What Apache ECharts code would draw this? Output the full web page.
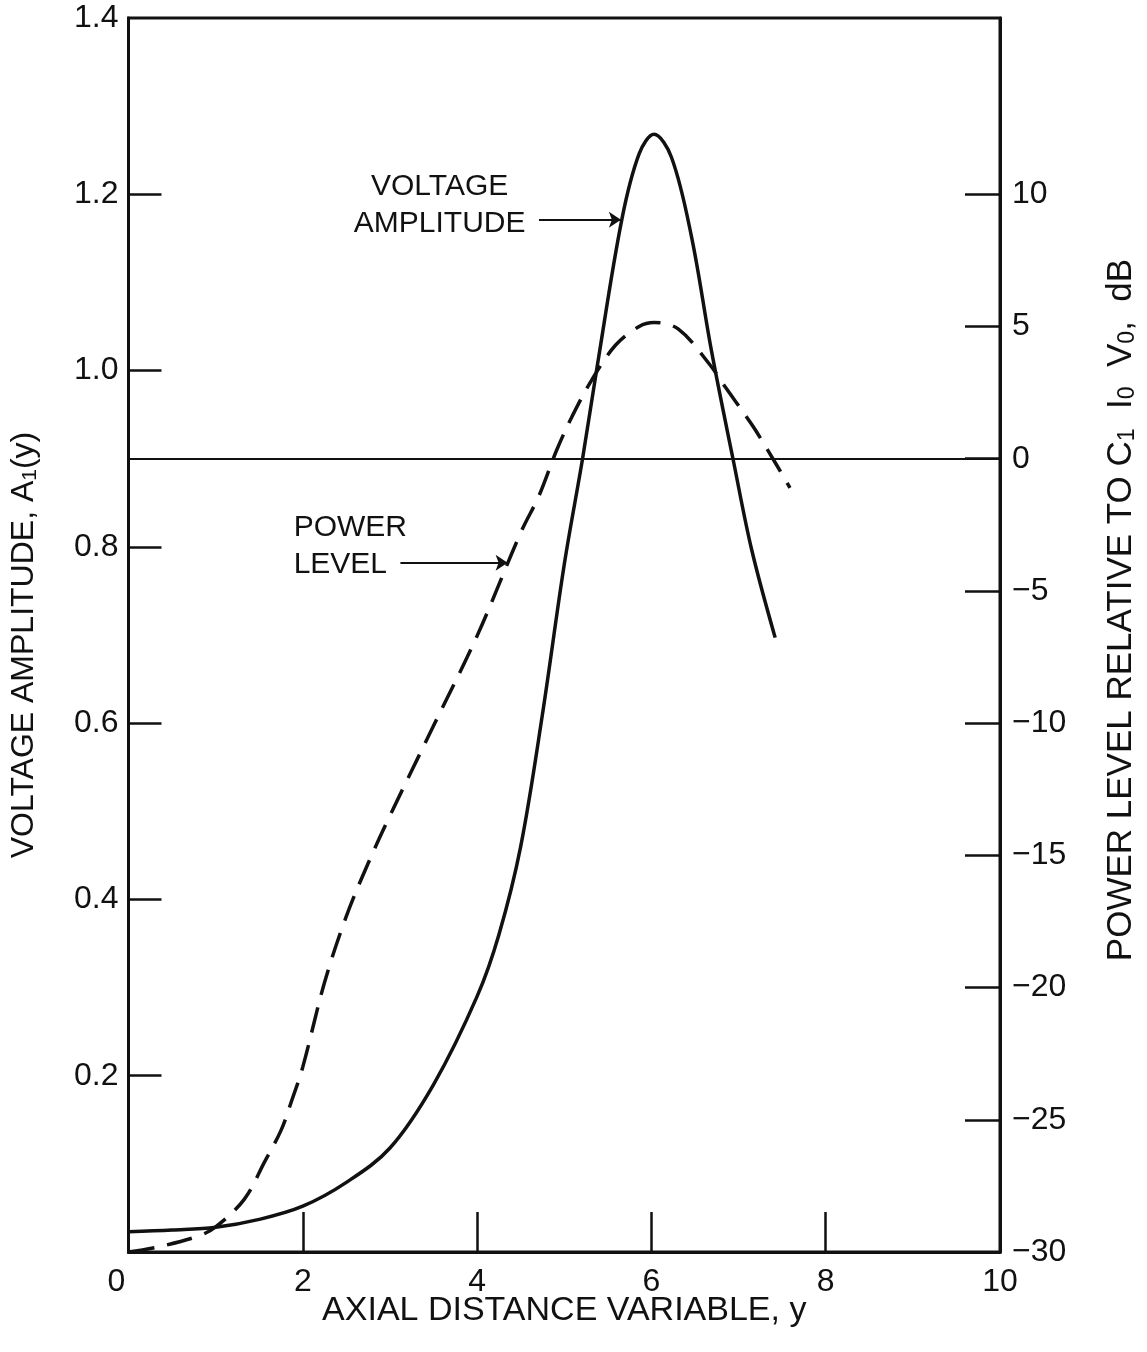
<!DOCTYPE html>
<html>
<head>
<meta charset="utf-8">
<script src="https://cdn.jsdelivr.net/npm/echarts@6/dist/echarts.min.js"></script>
<style>
  html, body { margin: 0; padding: 0; background: #fff; }
  #chart { width: 1147px; height: 1352px; }
</style>
</head>
<body>
<div id="chart"></div>
<script>
// Axial distance variable y
const yPosVoltage = [0, 0.5, 1.0, 1.5, 2.0, 2.5, 3.0, 3.5, 4.0, 4.25, 4.5, 4.75, 5.0, 5.21, 5.38, 5.66, 5.86, 6.03, 6.23, 6.46, 6.69, 6.94, 7.15, 7.42];
// Voltage amplitude A1(y)
const voltageAmp = [0.023, 0.025, 0.028, 0.037, 0.052, 0.079, 0.118, 0.19, 0.29, 0.36, 0.46, 0.61, 0.78, 0.90, 1.006, 1.171, 1.246, 1.268, 1.242, 1.152, 1.022, 0.898, 0.797, 0.697];

const yPosPower = [0, 0.35, 0.8, 1.0, 1.33, 1.56, 1.75, 1.87, 2.0, 2.25, 2.5, 2.75, 3.0, 3.5, 4.0, 4.5, 4.71, 4.91, 5.09, 5.32, 5.59, 5.86, 6.03, 6.31, 6.66, 6.85, 7.15, 7.34, 7.59];
// Power level relative to C1 I0 V0, dB
const powerDb = [-30, -29.8, -29.4, -29.05, -28.0, -26.6, -25.4, -24.3, -23.0, -19.8, -17.3, -15.3, -13.5, -10.1, -6.7, -2.8, -1.4, 0.3, 1.6, 3.0, 4.3, 5.0, 5.15, 4.9, 3.6, 2.7, 1.3, 0.3, -1.1];

// Tick positions and labels
const xTicks = [2, 4, 6, 8];
const xLabels = [0, 2, 4, 6, 8, 10];
const ampTicks = [0.2, 0.4, 0.6, 0.8, 1.0, 1.2];
const ampLabels = [0.2, 0.4, 0.6, 0.8, 1.0, 1.2, 1.4];
const dbTicks = [-25, -20, -15, -10, -5, 0, 5, 10];
const dbLabels = [-30, -25, -20, -15, -10, -5, 0, 5, 10];

// Callout texts and arrows (in y / A1 units)
const voltageNoteAt = [3.57, 1.188];
const voltageArrow = [[4.71, 1.171], [5.65, 1.171]];
const powerNoteAt = [1.895, 0.801];
const powerArrow = [[3.12, 0.782], [4.35, 0.782]];

// 0 dB corresponds to A = 0.9, and 1 dB spans 0.03 of the amplitude scale
const AMP_MAX = 1.4;
const DB_MIN = -30;
const DB_MAX = DB_MIN + AMP_MAX / 0.03;

const FONT = '"Liberation Sans", Arial, sans-serif';
const INK = '#111';

const zip = (xs, ys) => xs.map((x, i) => [x, ys[i]]);
const fmtAmp = v => (Math.round(v * 10) / 10).toFixed(1);
const fmtDb = v => (v < 0 ? '\u2212' + Math.abs(v) : String(v));
const fmtX = v => (v === 0 ? '{zero|0}' : String(v));

const chart = echarts.init(document.getElementById('chart'), null, { renderer: 'canvas' });

chart.setOption({
  animation: false,
  backgroundColor: '#fff',
  grid: {
    left: 127, right: 144, top: 18, bottom: 100,
    show: true, borderColor: INK, borderWidth: 3, backgroundColor: 'transparent'
  },
  xAxis: {
    type: 'value', min: 0, max: 10, interval: 2,
    name: 'AXIAL DISTANCE VARIABLE, y',
    nameLocation: 'middle', nameGap: 42, nameMoveOverlap: false,
    nameTextStyle: { fontFamily: FONT, fontSize: 34, color: INK, verticalAlign: 'top' },
    axisLine: { show: true, onZero: false, lineStyle: { color: INK, width: 3 } },
    axisTick: { show: true, inside: true, length: 40, customValues: xTicks, lineStyle: { color: INK, width: 2.5 } },
    axisLabel: {
      customValues: xLabels, margin: 14, fontFamily: FONT, fontSize: 32, color: INK, formatter: fmtX,
      rich: { zero: { fontFamily: FONT, fontSize: 32, color: INK, padding: [0, 24, 0, 0] } }
    },
    splitLine: { show: false }
  },
  yAxis: [
    {
      type: 'value', min: 0, max: AMP_MAX, interval: 0.2, position: 'left',
      name: 'VOLTAGE AMPLITUDE, A{sub|1}(y)',
      nameLocation: 'middle', nameGap: 88, nameRotate: 90,
      nameTextStyle: {
        fontFamily: FONT, fontSize: 32, color: INK, padding: [0, 20, 0, 0],
        rich: { sub: { fontFamily: FONT, fontSize: 21, color: INK, padding: [12, 0, 0, 0] } }
      },
      axisLine: { show: true, lineStyle: { color: INK, width: 3 } },
      axisTick: { show: true, inside: true, length: 33, customValues: ampTicks, lineStyle: { color: INK, width: 2.5 } },
      axisLabel: { customValues: ampLabels, margin: 10, fontFamily: FONT, fontSize: 32, color: INK, formatter: fmtAmp },
      splitLine: { show: false }
    },
    {
      type: 'value', min: DB_MIN, max: DB_MAX, position: 'right',
      name: 'POWER LEVEL RELATIVE TO C{sub|1}  I{sub|0}  V{sub|0},  dB',
      nameLocation: 'middle', nameGap: 104, nameRotate: 90,
      nameTextStyle: {
        fontFamily: FONT, fontSize: 35, color: INK, padding: [0, 0, 0, 50],
        rich: { sub: { fontFamily: FONT, fontSize: 23, color: INK, padding: [12, 0, 0, 0] } }
      },
      axisLine: { show: true, lineStyle: { color: INK, width: 3 } },
      axisTick: { show: true, inside: true, length: 35, customValues: dbTicks, lineStyle: { color: INK, width: 2.5 } },
      axisLabel: { customValues: dbLabels, margin: 12, fontFamily: FONT, fontSize: 32, color: INK, formatter: fmtDb },
      splitLine: { show: false }
    }
  ],
  series: [
    {
      name: 'Voltage amplitude',
      type: 'line', yAxisIndex: 0,
      data: zip(yPosVoltage, voltageAmp),
      smooth: 0.35,
      showSymbol: false, silent: true,
      lineStyle: { color: INK, width: 3.5 },
      markLine: {
        silent: true, animation: false,
        symbol: ['none', 'arrow'], symbolSize: 12,
        lineStyle: { color: INK, width: 2, type: 'solid' },
        label: { show: false },
        data: [
          [{ coord: voltageArrow[0] }, { coord: voltageArrow[1] }],
          [{ coord: powerArrow[0] }, { coord: powerArrow[1] }]
        ]
      },
      markPoint: {
        silent: true, animation: false,
        symbol: 'circle', symbolSize: 0,
        itemStyle: { color: 'transparent' },
        data: [
          {
            coord: voltageNoteAt,
            label: {
              show: true, formatter: 'VOLTAGE\nAMPLITUDE', position: [0, 0],
              align: 'center', verticalAlign: 'middle',
              fontFamily: FONT, fontSize: 30, lineHeight: 37, color: INK
            }
          },
          {
            coord: powerNoteAt,
            label: {
              show: true, formatter: 'POWER\nLEVEL', position: [0, 0],
              align: 'left', verticalAlign: 'middle',
              fontFamily: FONT, fontSize: 30, lineHeight: 37, color: INK
            }
          }
        ]
      }
    },
    {
      name: 'Power level',
      type: 'line', yAxisIndex: 1,
      data: zip(yPosPower, powerDb),
      smooth: 0.35,
      showSymbol: false, silent: true,
      lineStyle: { color: INK, width: 3.5, type: [26, 13] },
      markLine: {
        silent: true, animation: false,
        symbol: ['none', 'none'],
        lineStyle: { color: INK, width: 2, type: 'solid' },
        label: { show: false },
        data: [{ yAxis: 0 }]
      }
    }
  ]
});
</script>
</body>
</html>
